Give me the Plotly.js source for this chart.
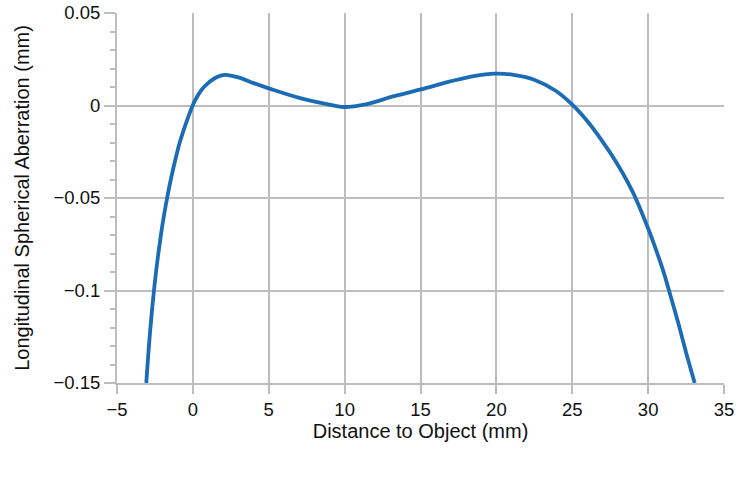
<!DOCTYPE html>
<html>
<head>
<meta charset="utf-8">
<script src="https://cdn.plot.ly/plotly-3.0.1.min.js"></script>
<style>
  html, body { margin: 0; padding: 0; background: #fff; }
  #chart { width: 750px; height: 481px; }
</style>
</head>
<body>
<div id="chart"></div>
<script>
// values
const distance = [-3.07, -2.987, -2.896, -2.796, -2.685, -2.563, -2.428, -2.276, -2.107,
  -1.915, -1.698, -1.454, -1.176, -0.866, -0.45, 0, 0.25, 0.5, 0.75, 1.0, 1.25, 1.5,
  1.75, 2.15, 3.0, 4.0, 5.1, 7.07, 8.83, 9.93, 11.47, 13.2, 15.03, 16.96, 18.5, 19.93,
  21.13, 22.45, 23.88, 25, 26, 27, 28, 29, 30, 30.5, 31, 31.5, 32, 32.5, 33.07];
const aberration = [-0.15, -0.14, -0.13, -0.12, -0.11, -0.1, -0.09, -0.08, -0.07, -0.06,
  -0.05, -0.04, -0.03, -0.02, -0.0095, 0.0003, 0.0043, 0.0076, 0.0101, 0.0121, 0.0137,
  0.015, 0.0159, 0.0166, 0.0152, 0.0121, 0.009, 0.004, 0.0008, -0.0008, 0.0008, 0.0049,
  0.0087, 0.013, 0.0159, 0.0172, 0.0166, 0.0141, 0.0081, 0.0005, -0.0085, -0.0195,
  -0.032, -0.047, -0.0665, -0.0775, -0.0895, -0.1035, -0.118, -0.1335, -0.15];
const xTicks = [-5, 0, 5, 10, 15, 20, 25, 30, 35];
const yTicks = [-0.15, -0.1, -0.05, 0, 0.05];
const yTickText = ['\u22120.15', '\u22120.1', '\u22120.05', '0', '0.05'];

const gridGray = '#bdbdbd';
const font = 'Liberation Sans, Arial, Helvetica, sans-serif';

Plotly.newPlot('chart', [{
  x: distance,
  y: aberration,
  type: 'scatter',
  mode: 'lines',
  line: { color: '#1c6bb5', width: 3.8, shape: 'spline', smoothing: 1 },
  hoverinfo: 'skip',
}], {
  width: 750,
  height: 481,
  paper_bgcolor: '#fff',
  plot_bgcolor: '#fff',
  margin: { t: 13, r: 26, b: 98, l: 117 },
  showlegend: false,
  font: { family: font, color: '#111', size: 18 },
  xaxis: {
    range: [-5, 35],
    tickvals: xTicks,
    ticktext: xTicks.map(v => v < 0 ? '\u2212' + Math.abs(v) : String(v)),
    showgrid: true, gridcolor: gridGray, gridwidth: 2,
    showline: true, linecolor: gridGray, linewidth: 2,
    zeroline: false,
    ticks: 'outside', ticklen: 9, tickwidth: 2, tickcolor: gridGray,
    tickfont: { size: 18.5 },
    title: { text: 'Distance to Object (mm)', font: { size: 20 }, standoff: 3 },
    automargin: false,
  },
  yaxis: {
    range: [-0.15, 0.05],
    tickvals: yTicks,
    ticktext: yTickText,
    showgrid: true, gridcolor: gridGray, gridwidth: 2,
    showline: true, linecolor: gridGray, linewidth: 2,
    zeroline: false,
    ticks: 'outside', ticklen: 11, tickwidth: 2, tickcolor: gridGray,
    tickfont: { size: 18.5 },
    minor: { dtick: 0.01, ticks: 'outside', ticklen: 5, tickwidth: 2, tickcolor: gridGray, showgrid: false },
    title: { text: 'Longitudinal Spherical Aberration (mm)', font: { size: 20 }, standoff: 18 },
    automargin: false,
  },
}, { displayModeBar: false, staticPlot: true });
</script>
</body>
</html>
